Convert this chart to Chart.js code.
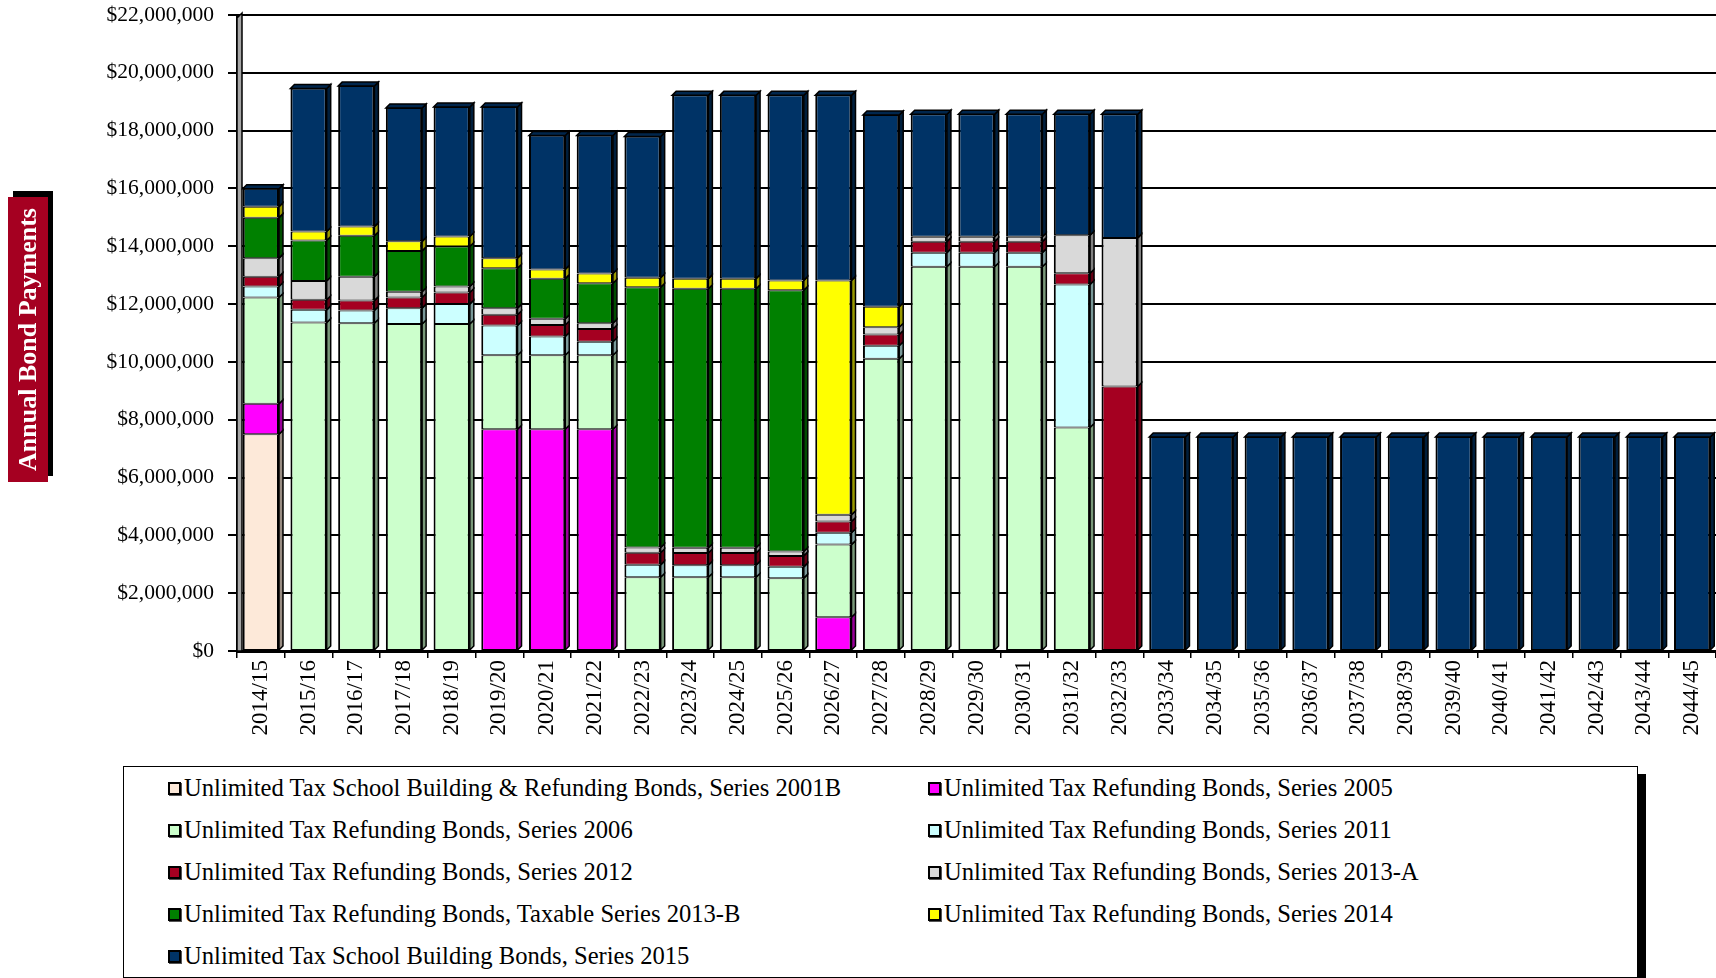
<!DOCTYPE html>
<html>
<head>
<meta charset="utf-8">
<title>Annual Bond Payments</title>
<script src="https://cdn.jsdelivr.net/npm/chart.js@4.4.1/dist/chart.umd.min.js"></script>
<style>
    html, body { margin: 0; padding: 0; background: #fff; overflow: hidden; }
    #wrap { position: relative; width: 1716px; height: 978px; overflow: hidden; }
    #bondChart { position: absolute; left: 0; top: 0; }
    #yTitle {
        position: absolute; left: 8px; top: 197px; width: 40px; height: 285px;
        background: #A50021; box-shadow: 5px -6px 0 #000;
        display: flex; align-items: center; justify-content: center;
    }
    #yTitle span {
        writing-mode: vertical-rl; transform: rotate(180deg);
        color: #fff; font: bold 26px "Liberation Serif", "Times New Roman", serif; white-space: nowrap;
    }
    #legend {
        position: absolute; left: 123px; top: 766px; width: 1515px; height: 212px;
        border: 1px solid #000; box-shadow: 8px 8px 0 #000; background: #fff;
        box-sizing: border-box; display: grid;
        grid-template-columns: 760px 1fr; grid-auto-rows: 42px;
    }
    .item {
        padding-left: 44px; display: flex; align-items: center;
        font: 24.6px "Liberation Serif", "Times New Roman", serif; color: #000; white-space: nowrap;
    }
    .swatch {
        width: 9px; height: 9px; border: 2px solid #000; margin-right: 3px;
        box-shadow: 1px 1px 0 #555;
    }
</style>
</head>
<body>
<div id="wrap">
    <canvas id="bondChart" width="1716" height="760"></canvas>
    <div id="yTitle"><span>Annual Bond Payments</span></div>
    <div id="legend"></div>
</div>
<script>
// fiscal years on the x axis
const fiscalYears = [
    '2014/15', '2015/16', '2016/17', '2017/18', '2018/19', '2019/20', '2020/21', '2021/22',
    '2022/23', '2023/24', '2024/25', '2025/26', '2026/27', '2027/28', '2028/29', '2029/30',
    '2030/31', '2031/32', '2032/33', '2033/34', '2034/35', '2035/36', '2036/37', '2037/38',
    '2038/39', '2039/40', '2040/41', '2041/42', '2042/43', '2043/44', '2044/45'
];

// payments in millions of dollars, one value per fiscal year (null = no payment)
const series2001B = [7.50];
const series2005 = [1.05, null, null, null, null, 7.67, 7.67, 7.67, null, null, null, null, 1.17];
const series2006 = [3.68, 11.36, 11.34, 11.31, 11.31, 2.56, 2.56, 2.56, 2.55, 2.55, 2.55, 2.52, 2.51, 10.11, 13.29, 13.29, 13.29, 7.73];
const series2011 = [0.38, 0.44, 0.44, 0.55, 0.69, 1.03, 0.65, 0.47, 0.43, 0.42, 0.42, 0.39, 0.41, 0.45, 0.49, 0.49, 0.49, 4.95];
const series2012 = [0.34, 0.35, 0.34, 0.37, 0.40, 0.37, 0.40, 0.44, 0.42, 0.42, 0.42, 0.38, 0.39, 0.39, 0.38, 0.38, 0.38, 0.39, 9.15];
const series2013A = [0.64, 0.65, 0.83, 0.20, 0.21, 0.23, 0.21, 0.20, 0.18, 0.18, 0.18, 0.15, 0.23, 0.25, 0.17, 0.17, 0.17, 1.31, 5.14];
const series2013B = [1.40, 1.40, 1.41, 1.41, 1.38, 1.38, 1.39, 1.38, 9.00, 8.96, 8.96, 9.04];
const series2014 = [0.38, 0.31, 0.32, 0.33, 0.35, 0.35, 0.32, 0.34, 0.33, 0.35, 0.35, 0.34, 8.11, 0.71];
const series2015 = [0.62, 4.95, 4.86, 4.61, 4.48, 5.23, 4.63, 4.77, 4.89, 6.34, 6.34, 6.40, 6.40, 6.63, 4.24, 4.24, 4.24, 4.19, 4.28,
    7.40, 7.40, 7.40, 7.40, 7.40, 7.40, 7.40, 7.40, 7.40, 7.40, 7.40, 7.40];

const yTicks = [0, 2, 4, 6, 8, 10, 12, 14, 16, 18, 20, 22];

const seriesNames = [
    'Unlimited Tax School Building & Refunding Bonds, Series 2001B',
    'Unlimited Tax Refunding Bonds, Series 2005',
    'Unlimited Tax Refunding Bonds, Series 2006',
    'Unlimited Tax Refunding Bonds, Series 2011',
    'Unlimited Tax Refunding Bonds, Series 2012',
    'Unlimited Tax Refunding Bonds, Series 2013-A',
    'Unlimited Tax Refunding Bonds, Taxable Series 2013-B',
    'Unlimited Tax Refunding Bonds, Series 2014',
    'Unlimited Tax School Building Bonds, Series 2015'
];
const seriesValues = [series2001B, series2005, series2006, series2011, series2012, series2013A, series2013B, series2014, series2015];
const seriesColors = ['#FDE9D9', '#FF00FF', '#CCFFCC', '#CCFFFF', '#A50021', '#D9D9D9', '#008000', '#FFFF00', '#003366'];

function shade(hex, f) {
    const n = parseInt(hex.slice(1), 16);
    const r = Math.round(((n >> 16) & 255) * f);
    const g = Math.round(((n >> 8) & 255) * f);
    const b = Math.round((n & 255) * f);
    return `rgb(${r},${g},${b})`;
}

function poly(ctx, pts) {
    ctx.beginPath();
    ctx.moveTo(pts[0][0], pts[0][1]);
    pts.slice(1).forEach(p => ctx.lineTo(p[0], p[1]));
    ctx.closePath();
    ctx.fill();
    ctx.stroke();
}

// fake 3D look: grey left wall, dark side faces and a top face on each stack
const bar3d = {
    id: 'bar3d',
    beforeDatasetsDraw(chart) {
        const { ctx, chartArea: a } = chart;
        ctx.save();
        ctx.fillStyle = '#a6a6a6';
        ctx.strokeStyle = '#000';
        ctx.lineWidth = 1.5;
        poly(ctx, [[a.left, a.bottom], [a.left, a.top + 3], [a.left + 5, a.top - 2], [a.left + 5, a.bottom]]);
        ctx.restore();
    },
    afterDatasetsDraw(chart) {
        const ctx = chart.ctx;
        const d = 4;
        const metas = chart.getSortedVisibleDatasetMetas();
        ctx.save();
        ctx.strokeStyle = '#000';
        ctx.lineWidth = 1.5;
        chart.data.labels.forEach((_, i) => {
            let topEl = null, topColor = null;
            metas.forEach(meta => {
                const ds = chart.data.datasets[meta.index];
                const v = ds.data[i];
                const el = meta.data[i];
                if (v == null || !el) return;
                const right = el.x + el.width / 2;
                ctx.fillStyle = shade(ds.backgroundColor, 0.6);
                poly(ctx, [[right, el.y], [right + d, el.y - d], [right + d, el.base - d], [right, el.base]]);
                topEl = el;
                topColor = ds.backgroundColor;
            });
            if (topEl) {
                const left = topEl.x - topEl.width / 2;
                const right = topEl.x + topEl.width / 2;
                ctx.fillStyle = shade(topColor, 0.75);
                poly(ctx, [[left, topEl.y], [left + d, topEl.y - d], [right + d, topEl.y - d], [right, topEl.y]]);
            }
        });
        ctx.restore();
    }
};

const datasets = seriesNames.map((name, k) => ({
    label: name,
    data: fiscalYears.map((_, i) => seriesValues[k][i] ?? null),
    backgroundColor: seriesColors[k],
    borderColor: '#000',
    borderWidth: { top: 1, bottom: 1, left: 2, right: 2 },
    borderSkipped: false,
    categoryPercentage: 1,
    barPercentage: 0.76
}));

const serif = '"Liberation Serif", "Times New Roman", serif';

new Chart(document.getElementById('bondChart'), {
    type: 'bar',
    data: { labels: fiscalYears, datasets },
    plugins: [bar3d],
    options: {
        responsive: false,
        animation: false,
        devicePixelRatio: 1,
        layout: { padding: { top: 15, right: 0, bottom: 0, left: 0 } },
        plugins: { legend: { display: false }, tooltip: { enabled: false } },
        scales: {
            x: {
                stacked: true,
                afterFit: s => { s.height = 109; s.paddingLeft = 0; s.paddingRight = 0; },
                grid: { offset: true, drawOnChartArea: false, color: '#000', lineWidth: 1.5, tickLength: 7 },
                border: { color: '#000', width: 3 },
                ticks: {
                    autoSkip: false, minRotation: 90, maxRotation: 90, padding: 2,
                    color: '#000', font: { family: serif, size: 23 }
                }
            },
            y: {
                stacked: true,
                min: 0,
                max: 22,
                afterFit: s => { s.width = 237; s.paddingTop = 0; s.paddingBottom = 0; },
                afterBuildTicks: s => { s.ticks = yTicks.map(v => ({ value: v })); },
                grid: { color: '#000', lineWidth: 2, tickLength: 9 },
                border: { color: '#000', width: 2 },
                ticks: {
                    padding: 14, color: '#000', font: { family: serif, size: 21.5 },
                    callback: v => '$' + (v * 1000000).toLocaleString('en-US')
                }
            }
        }
    }
});

// two-column legend box, filled row by row like the original
const legendEl = document.getElementById('legend');
legendEl.innerHTML = seriesNames.map((name, k) =>
    `<div class="item"><span class="swatch" style="background:${seriesColors[k]}"></span>${name.replace('&', '&amp;')}</div>`
).join('');
</script>
</body>
</html>
